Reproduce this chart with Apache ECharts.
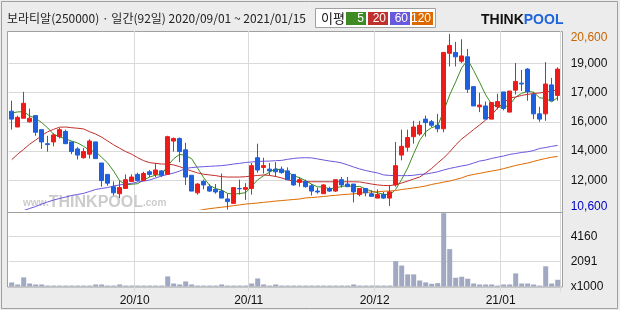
<!DOCTYPE html>
<html><head><meta charset="utf-8">
<script src="https://cdn.jsdelivr.net/npm/echarts/dist/echarts.min.js"></script>
<style>html,body{margin:0;padding:0;background:#ececec}#c{width:620px;height:310px}</style>
</head><body><div id="c"></div>
<script>
const dates = [
'2020/09/01','2020/09/02','2020/09/03','2020/09/04','2020/09/07','2020/09/08','2020/09/09','2020/09/10','2020/09/11','2020/09/14',
'2020/09/15','2020/09/16','2020/09/17','2020/09/18','2020/09/21','2020/09/22','2020/09/23','2020/09/24','2020/09/25','2020/09/28',
'2020/09/29','2020/10/05','2020/10/06','2020/10/07','2020/10/08','2020/10/12','2020/10/13','2020/10/14','2020/10/15','2020/10/16',
'2020/10/19','2020/10/20','2020/10/21','2020/10/22','2020/10/23','2020/10/26','2020/10/27','2020/10/28','2020/10/29','2020/10/30',
'2020/11/02','2020/11/03','2020/11/04','2020/11/05','2020/11/06','2020/11/09','2020/11/10','2020/11/11','2020/11/12','2020/11/13',
'2020/11/16','2020/11/17','2020/11/18','2020/11/19','2020/11/20','2020/11/23','2020/11/24','2020/11/25','2020/11/26','2020/11/27',
'2020/11/30','2020/12/01','2020/12/02','2020/12/03','2020/12/04','2020/12/07','2020/12/08','2020/12/09','2020/12/10','2020/12/11',
'2020/12/14','2020/12/15','2020/12/16','2020/12/17','2020/12/18','2020/12/21','2020/12/22','2020/12/23','2020/12/24','2020/12/28',
'2020/12/29','2020/12/30','2021/01/04','2021/01/05','2021/01/06','2021/01/07','2021/01/08','2021/01/11','2021/01/12','2021/01/13',
'2021/01/14','2021/01/15'];
const opens = [16200,15300,15800,15600,15950,15150,14350,14450,14750,15050,
14450,14050,13550,13750,14450,13250,12600,11900,11500,11800,
12200,12600,12250,12750,12600,12800,12600,14500,14650,14000,
12550,11550,12200,11900,11750,11650,11200,10950,11800,11750,
11800,13550,13000,12900,12900,12900,12800,12600,12150,12200,
11950,11650,11500,11800,11650,12300,12050,12050,11450,11800,
11500,11250,11450,11250,12000,13700,14150,14750,14900,15750,
15600,15400,15200,19500,19550,19050,19300,17600,16450,16500,
15750,16450,17300,16150,17400,17800,18600,17150,16050,16050,
17700,17100];
const closes = [15750,15850,16650,15800,15000,14450,14300,14850,15150,14350,
13900,13700,13900,14500,13500,12250,12100,11550,11850,12300,
12450,12250,12650,12600,12850,12550,14750,14650,13900,12450,
11650,12050,12000,11650,11600,11250,11050,11850,11780,11850,
13100,12850,13100,12800,12750,12700,12300,12000,12300,11900,
11650,11600,12000,11650,12300,12000,11900,11600,11800,11550,
11350,11450,11250,11600,13100,14200,14700,15300,15400,15550,
15400,15200,19550,19950,19300,19350,17450,16500,16550,15750,
16700,16750,16350,17350,17900,17750,17300,16050,15750,17750,
16800,18600];
const lows = [15150,15300,15800,15550,14800,14050,13900,14200,14650,14350,
13750,13450,13500,13500,13500,11900,11950,11400,11250,11800,
12200,12200,12250,12450,12450,12450,12600,13900,13300,12000,
11650,11450,11750,11600,11500,11250,10600,10950,11450,11150,
11450,12700,12650,12550,12450,12650,12300,11950,11900,11850,
11400,11500,11500,11600,11600,11850,11900,11000,11350,11350,
11350,11250,11200,10800,11900,13400,13900,14350,14800,14750,
15300,15000,15000,18750,18750,18950,17250,16500,16150,15750,
15750,16300,16250,16150,17150,17350,16800,15750,15600,15650,
16800,16800];
const highs = [16800,15950,17300,16350,15950,15150,14800,14950,15250,15150,
14450,14150,14100,14600,14450,13250,12600,12200,12250,12600,
12600,12700,12750,12850,13250,12850,14800,14700,14700,14400,
12550,12100,12300,12050,12050,12650,11500,11850,12300,12100,
13250,14350,13550,13250,13300,13050,13000,12600,12450,12300,
12050,11850,12050,11900,12300,12450,12450,12050,11800,11800,
11700,11750,11600,12000,14450,15150,15150,15650,15650,15950,
15700,16050,19550,20600,20150,20300,19750,17600,17250,16750,
16700,17200,17300,17350,18950,18550,18650,17300,16450,19000,
18100,18700];
const volumes = [336,168,756,252,168,168,80,80,80,80,
80,80,80,80,170,170,80,80,170,80,
80,80,80,80,80,80,840,250,170,420,
170,80,80,80,80,170,80,80,80,80,
250,670,170,80,170,80,80,80,80,80,
80,80,80,80,80,80,80,170,80,80,
80,80,80,80,2100,1740,1010,1010,500,340,
225,280,6100,3110,730,810,650,250,170,170,
170,80,170,170,1090,250,250,170,80,1680,
250,560];
const ma5 = [16100,16160,16180,15930,15800,15550,15250,14880,14740,14620,
14500,14390,14200,13960,13900,13570,13250,12780,12240,12000,
12040,12070,12290,12450,12560,12590,13090,13490,13750,13670,
13490,12950,12410,11970,11790,11710,11510,11480,11510,11560,
11920,12290,12530,12730,12920,12840,12740,12520,12410,12240,
12040,11890,11890,11770,11840,11910,11970,11890,11920,11770,
11640,11550,11470,11430,11740,12320,12970,13780,14540,15030,
15270,15370,16210,17130,17880,18670,19130,18520,17840,17130,
16600,16450,16410,16570,17010,17220,17340,17280,16960,16930,
16730,16990];
const ma20 = [13440,13750,14030,14320,14560,14810,15030,15170,15290,15300,
15260,15230,15190,15030,14900,14720,14500,14280,14090,13900,
13750,13550,13380,13270,13230,13190,13190,13140,13040,12910,
12790,12680,12610,12570,12530,12470,12450,12450,12450,12470,
12510,12540,12570,12540,12480,12400,12280,12220,12180,12180,
12180,12180,12180,12180,12180,12180,12180,12180,12170,12110,
12050,12000,11970,11960,12020,12110,12220,12340,12450,12680,
12940,13250,13540,13880,14280,14620,14880,15160,15420,15700,
15990,16390,16670,16960,17010,17100,17160,17210,17240,17300,
17360,17410];
const ma60 = [10290,10400,10540,10660,10770,10910,11030,11140,11230,11310,
11400,11460,11520,11630,11740,11800,11850,11940,12000,12050,
12090,12170,12220,12280,12400,12510,12600,12680,12790,12940,
12990,13020,13040,13060,13080,13100,13140,13190,13230,13280,
13310,13340,13350,13360,13380,13400,13460,13510,13540,13550,
13540,13480,13420,13360,13320,13250,13140,13020,12910,12820,
12750,12680,12570,12540,12530,12530,12530,12550,12600,12620,
12680,12750,12850,12940,13010,13080,13140,13250,13360,13420,
13510,13580,13650,13740,13790,13850,13890,13960,14080,14130,
14200,14250];
const ma120 = ['-','-','-','-','-','-','-','-','-','-',
'-','-','-','-','-','-','-','-','-','-',
'-','-','-','-','-','-','-','-','-',10400,
10460,10530,10600,10650,10690,10730,10770,10820,10860,10910,
10940,10970,11010,11040,11080,11110,11140,11170,11200,11260,
11280,11310,11340,11380,11410,11440,11470,11490,11530,11570,
11600,11610,11640,11650,11680,11740,11780,11830,11880,11940,
12030,12090,12160,12220,12310,12400,12530,12600,12660,12730,
12790,12850,12930,13020,13110,13180,13250,13340,13430,13510,
13580,13620];
const priceLabels = ['10,600','12,000','14,000','16,000','17,000','19,000','20,600'];
const volLabels = ['x1000','2091','4160',''];
const maNames = ['5','20','60','120'];
const maColors = ['#3d8b22','#c0302c','#6a58dc','#dc6a00'];
const titleText = '보라티알(250000) · 일간(92일) 2020/09/01 ~ 2021/01/15';

const RED = '#ee1b1b', BLUE = '#1d5fdd', GRID = '#d9d9d9', T = 'rgba(0,0,0,0)';
const AX = 'Liberation Sans';
const monthStart = dates.map((d, i) => i > 0 && d.slice(5, 7) !== dates[i - 1].slice(5, 7));
const candle = dates.map((d, i) => [opens[i], closes[i], lows[i], highs[i]]);

const chart = echarts.init(document.getElementById('c'), null, {renderer: 'canvas'});
const maSeries = [ma5, ma20, ma60, ma120].map((arr, k) => ({
  type: 'line', name: 'MA' + maNames[k], xAxisIndex: 0, yAxisIndex: 0, data: arr,
  showSymbol: false, symbol: 'none', clip: true, z: 2,
  lineStyle: {color: maColors[k], width: 1}, itemStyle: {color: maColors[k]}
}));

const legendX = [346, 368, 390, 412];
const legendW = [20, 20, 20, 21];
const legendGraphics = [];
maNames.forEach((n, k) => {
  legendGraphics.push({type: 'rect', shape: {x: legendX[k], y: 12, width: legendW[k], height: 13}, style: {fill: maColors[k]}, z: 20});
  legendGraphics.push({type: 'text', x: legendX[k] + legendW[k] - 2, y: 18.5, style: {text: n, fill: '#fff', font: '12px ' + AX, textAlign: 'right', textVerticalAlign: 'middle'}, z: 21});
});

chart.setOption({
  animation: false,
  backgroundColor: '#ececec',
  grid: [
    {left: 8.7, top: 34, width: 552, height: 175.5, outerBoundsMode: 'none'},
    {left: 8.7, top: 211.5, width: 552, height: 75, outerBoundsMode: 'none'},
    {left: 7.5, top: 31.5, width: 555, height: 255.5, show: true, backgroundColor: '#fff', borderColor: '#a0a0a0', borderWidth: 1, z: -1, outerBoundsMode: 'none'},
    {left: 8.7, top: 31, width: 552, height: 256, outerBoundsMode: 'none'}
  ],
  xAxis: [
    {type: 'category', gridIndex: 0, data: dates, boundaryGap: true, axisLine: {show: false}, axisTick: {show: false}, axisLabel: {show: false}, splitLine: {show: false}},
    {type: 'category', gridIndex: 1, data: dates, boundaryGap: true, axisLine: {show: false},
      axisTick: {show: true, interval: (i) => monthStart[i], length: 5, lineStyle: {color: GRID}},
      axisLabel: {show: true, interval: (i) => monthStart[i], formatter: (v) => v.slice(2, 4) + '/' + v.slice(5, 7),
        margin: 8, color: '#111', fontSize: 12, fontFamily: AX, padding: [0, 6, 0, 0]},
      splitLine: {show: false}},
    {type: 'value', gridIndex: 2, show: false},
    {type: 'category', gridIndex: 3, data: dates, boundaryGap: true, axisLine: {show: false}, axisTick: {show: false}, axisLabel: {show: false},
      splitLine: {show: true, interval: (i) => monthStart[i], lineStyle: {color: GRID, width: 1}}}
  ],
  yAxis: [
    {type: 'value', gridIndex: 0, min: 10600, max: 20600, show: false},
    {type: 'value', gridIndex: 0, min: 0, max: 6, interval: 1, position: 'right',
      axisLine: {show: false}, axisTick: {show: false},
      splitLine: {show: true, lineStyle: {color: [T, GRID, GRID, GRID, GRID, GRID, T], width: 1}},
      axisLabel: {show: true, margin: 10, color: '#111', fontSize: 12, fontFamily: AX, align: 'left',
        formatter: (v) => {
          const i = Math.round(v);
          if (i === 6) return '{t|' + priceLabels[i] + '}';
          if (i === 0) return '{b|' + priceLabels[i] + '}';
          return priceLabels[i];
        },
        rich: {
          t: {color: '#c86400', fontSize: 12, fontFamily: AX, padding: [8, 0, 0, 0]},
          b: {color: '#0000c0', fontSize: 12, fontFamily: AX, padding: [0, 0, 6, 0]}
        }}},
    {type: 'value', gridIndex: 1, min: 0, max: 6240, interval: 2080, position: 'right',
      axisLine: {show: false}, axisTick: {show: false},
      splitLine: {show: true, lineStyle: {color: [T, GRID, GRID, T], width: 1}},
      axisLabel: {show: true, margin: 10, color: '#111', fontSize: 12, fontFamily: AX, align: 'left',
        formatter: (v) => volLabels[Math.round(v / 2080)]}},
    {type: 'value', gridIndex: 2, show: false},
    {type: 'value', gridIndex: 3, show: false}
  ],
  series: [
    ...maSeries,
    {type: 'candlestick', xAxisIndex: 0, yAxisIndex: 0, data: candle, barWidth: 4, z: 3,
      itemStyle: {color: RED, color0: BLUE, borderColor: RED, borderColor0: BLUE, borderWidth: 1}},
    {type: 'bar', xAxisIndex: 1, yAxisIndex: 2, data: volumes, barWidth: 5, z: 2,
      itemStyle: {color: '#a0a9c1'}}
  ],
  graphic: [
    {type: 'rect', shape: {x: 1.5, y: 1.5, width: 616, height: 307}, style: {fill: 'none', stroke: '#a0a0a0', lineWidth: 1}, z: 20},
    {type: 'line', shape: {x1: 7.5, y1: 212.5, x2: 562.5, y2: 212.5}, style: {stroke: '#a0a0a0', lineWidth: 1}, z: 20},
    {type: 'text', x: 7, y: 18, style: {text: titleText, fill: '#222', font: '12px "Noto Sans CJK KR"', textVerticalAlign: 'middle'}, z: 20},
    {type: 'rect', shape: {x: 315.5, y: 8.5, width: 120, height: 19}, style: {fill: '#fff', stroke: '#a0a0a0', lineWidth: 1}, z: 19},
    {type: 'text', x: 321, y: 18.5, style: {text: '이평', fill: '#111', font: '13px "Noto Sans CJK KR"', textVerticalAlign: 'middle'}, z: 20},
    ...legendGraphics,
    {type: 'text', x: 481, y: 20, style: {rich: {a: {fill: '#111', font: 'bold 14px ' + AX}, p: {fill: '#1e64dc', font: 'bold 14px ' + AX}}, text: '{a|THINK}{p|POOL}', textVerticalAlign: 'middle'}, z: 20},
    {type: 'text', x: 23, y: 203, style: {rich: {s: {fill: '#cccccc', font: 'bold 10px ' + AX}, b: {fill: '#cccccc', font: 'bold 16px ' + AX}}, text: '{s|www.}{b|THINKPOOL}{s|.com}', textVerticalAlign: 'middle'}, z: 1}
  ]
});
</script>
</body></html>
